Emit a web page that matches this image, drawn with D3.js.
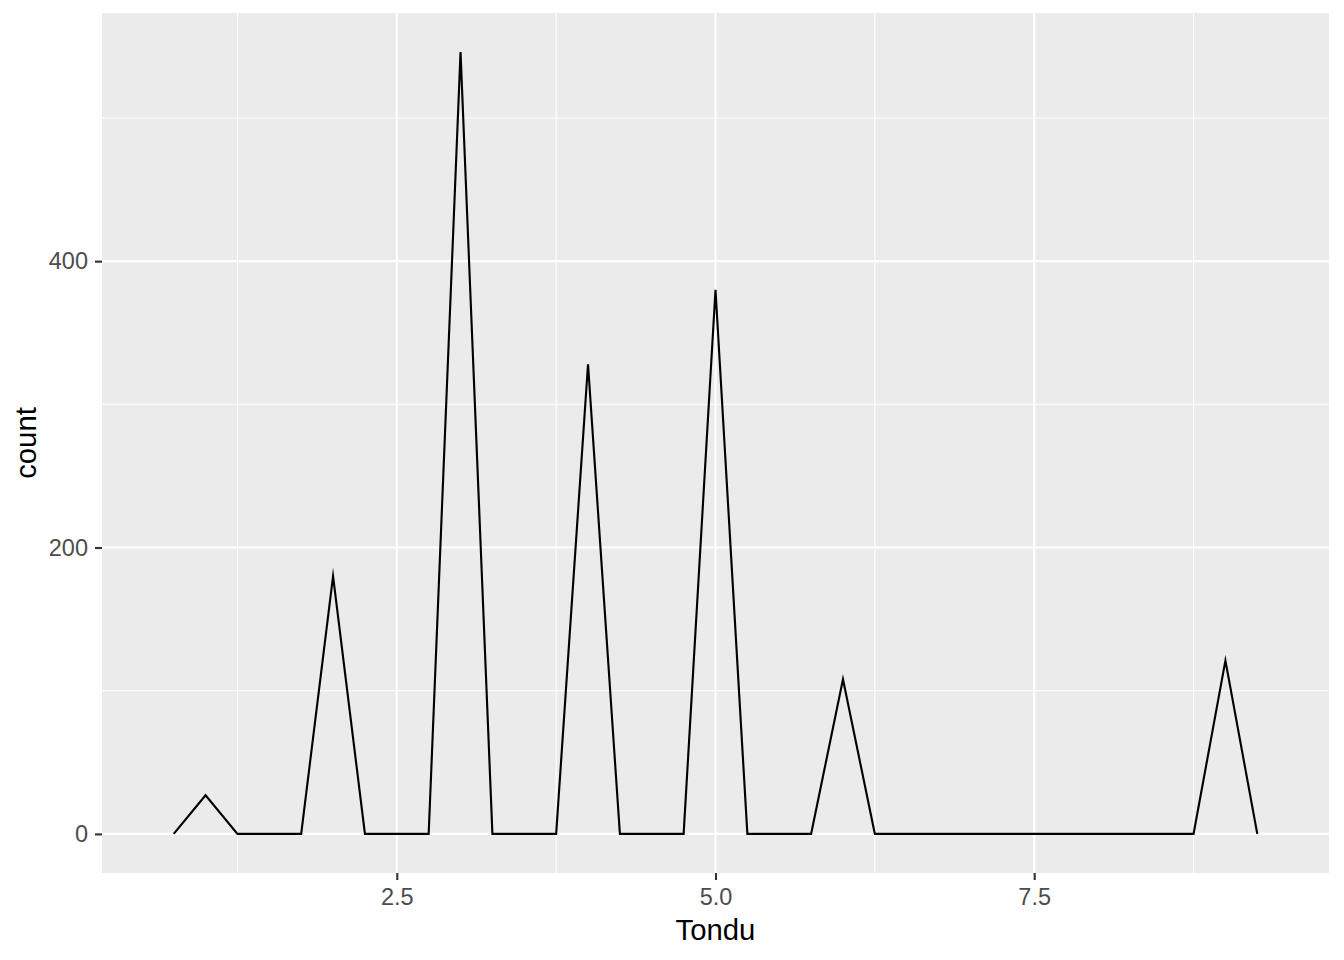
<!DOCTYPE html>
<html><head><meta charset="utf-8">
<script src="https://cdn.jsdelivr.net/npm/d3@7"></script>
<style>body{margin:0;background:#fff}svg{display:block}text{font-family:"Liberation Sans",Arial,sans-serif}</style>
</head><body>
<script>
const xCenters = [0.75,1.0,1.25,1.5,1.75,2.0,2.25,2.5,2.75,3.0,3.25,3.5,3.75,4.0,4.25,4.5,4.75,5.0,5.25,5.5,5.75,6.0,6.25,6.5,6.75,7.0,7.25,7.5,7.75,8.0,8.25,8.5,8.75,9.0,9.25];
const counts   = [0,27,0,0,0,180,0,0,0,546,0,0,0,328,0,0,0,380,0,0,0,108,0,0,0,0,0,0,0,0,0,0,0,121,0];
const xTicks = [2.5,5.0,7.5];
const yTicks = [0,200,400];
const xMinor = [1.25,3.75,6.25,8.75];
const yMinor = [100,300,500];
const xLabel = "Tondu", yLabel = "count";

const W=1344,H=960, L=102,R=1329,T=13,B=873;
const svg=d3.select("body").append("svg").attr("width",W).attr("height",H);
const x=d3.scaleLinear().domain([0.1875,9.8125]).range([L,R]);
const ymax=d3.max(counts), pad=ymax*0.05;
const y=d3.scaleLinear().domain([-pad,ymax+pad]).range([B,T]);

svg.append("rect").attr("x",L).attr("y",T).attr("width",R-L).attr("height",B-T).attr("fill","#EBEBEB");
const g=svg.append("g");
g.selectAll(".xm").data(xMinor).join("line").attr("x1",d=>x(d)).attr("x2",d=>x(d)).attr("y1",T).attr("y2",B).attr("stroke","#fff").attr("stroke-width",1.07);
g.selectAll(".ym").data(yMinor).join("line").attr("y1",d=>y(d)).attr("y2",d=>y(d)).attr("x1",L).attr("x2",R).attr("stroke","#fff").attr("stroke-width",1.07);
g.selectAll(".xM").data(xTicks).join("line").attr("x1",d=>x(d)).attr("x2",d=>x(d)).attr("y1",T).attr("y2",B).attr("stroke","#fff").attr("stroke-width",2.13);
g.selectAll(".yM").data(yTicks).join("line").attr("y1",d=>y(d)).attr("y2",d=>y(d)).attr("x1",L).attr("x2",R).attr("stroke","#fff").attr("stroke-width",2.13);

const line=d3.line().x((d,i)=>x(xCenters[i])).y(d=>y(d));
svg.append("path").datum(counts).attr("d",line).attr("fill","none").attr("stroke","#000").attr("stroke-width",2.13).attr("stroke-linejoin","miter").attr("stroke-miterlimit",10);

const xa=svg.append("g").attr("transform",`translate(0,${B})`).call(d3.axisBottom(x).tickValues(xTicks).tickFormat(d3.format(".1f")).tickSize(7).tickPadding(8));
const ya=svg.append("g").attr("transform",`translate(${L},0)`).call(d3.axisLeft(y).tickValues(yTicks).tickFormat(d3.format("d")).tickSize(7).tickPadding(7));
[xa,ya].forEach(a=>{a.attr("font-size",null).attr("font-family",null);a.select(".domain").remove();a.selectAll("line").attr("stroke","#333").attr("stroke-width",2.13);a.selectAll("text").attr("fill","#4D4D4D").style("font-size","23.5px");});

svg.append("text").attr("x",(L+R)/2).attr("y",940).attr("text-anchor","middle").style("font-size","29.3px").attr("fill","#000").text(xLabel);
svg.append("text").attr("transform",`translate(36,${(T+B)/2}) rotate(-90)`).attr("text-anchor","middle").style("font-size","29.3px").attr("fill","#000").text(yLabel);
</script>
</body></html>
